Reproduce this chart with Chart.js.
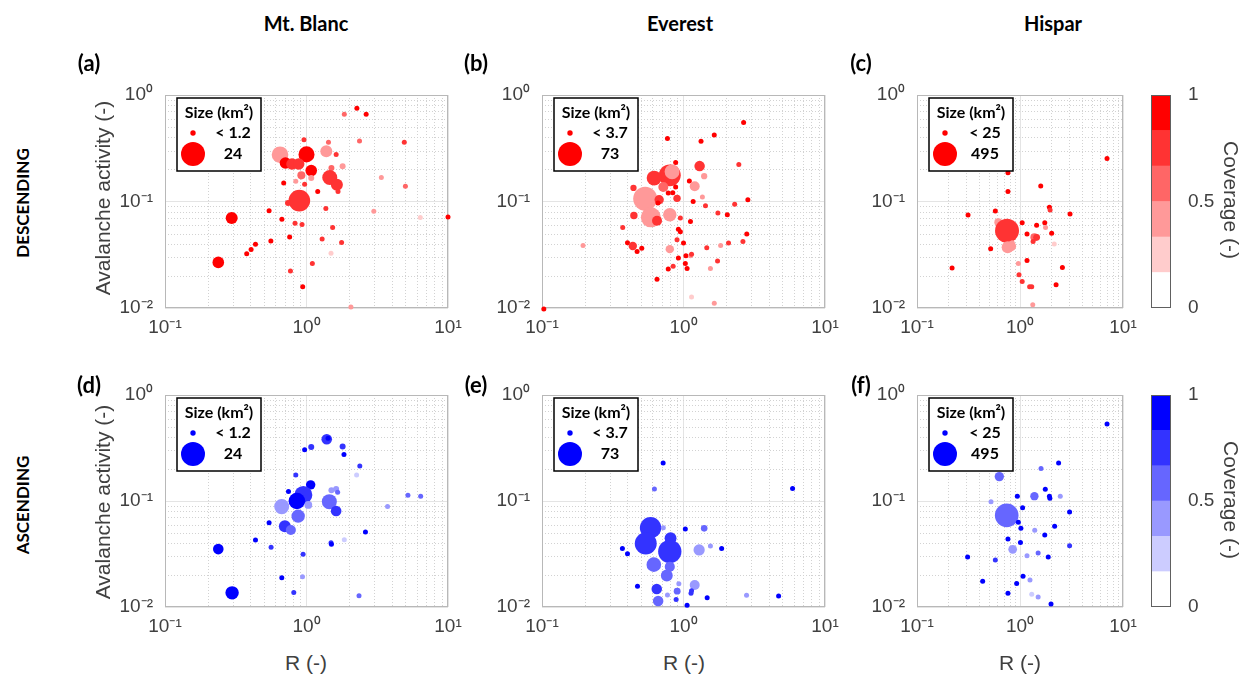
<!DOCTYPE html>
<html>
<head>
<meta charset="utf-8">
<script src="https://cdn.jsdelivr.net/npm/chart.js@4.4.0/dist/chart.umd.min.js"></script>
<style>
  body { margin: 0; background: #fff; }
  #page { position: relative; width: 1243px; height: 677px; overflow: hidden; font-family: 'Liberation Sans', Arial, sans-serif; }
  canvas { position: absolute; }
  .lbl { position: absolute; transform: translate(-50%, -50%); white-space: nowrap; }
  .head { font-family: Lato, sans-serif; font-weight: 700; color: #000; }
  .axis { color: #404040; font-size: 21px; }
</style>
</head>
<body>
<div id="page"></div>
<script>
// each row: [R, avalanche activity, glacier size (km2), coverage]
const mtBlancDesc = [
  [2.27,0.75,1,0.9],[1.85,0.66,1,0.6],[2.64,0.66,1,0.9],[0.96,0.38,1,0.75],[1.43,0.36,1,0.6],
  [2.37,0.37,1,0.6],[4.91,0.36,1,0.75],[0.65,0.275,11.5,0.45],[1.0,0.277,10.7,0.9],[1.38,0.296,6,0.4],
  [1.62,0.277,1,0.75],[0.71,0.23,5.6,0.9],[0.79,0.225,5.6,0.75],[0.88,0.225,5.6,0.75],[1.08,0.195,5.6,0.9],
  [1.8,0.214,1.5,0.4],[1.5,0.206,1.5,0.6],[0.92,0.176,2.7,0.6],[1.08,0.166,1.5,0.4],[1.46,0.168,9.4,0.75],
  [3.38,0.168,1,0.45],[0.69,0.149,1,0.9],[0.84,0.155,1,0.4],[0.97,0.145,1,0.75],[1.64,0.144,6,0.75],
  [5.0,0.139,1,0.6],[1.2,0.124,1,0.9],[1.67,0.124,1,0.75],[0.89,0.102,19.5,0.75],[0.74,0.097,1.5,0.75],
  [0.296,0.07,6,0.95],[0.544,0.082,1,0.95],[0.67,0.068,1,0.95],[0.83,0.0625,1,0.75],[0.93,0.0607,1,0.75],
  [1.37,0.086,1,0.75],[2.99,0.081,1,0.45],[6.37,0.0706,1,0.25],[10.0,0.0717,1,0.95],[1.53,0.0569,1,0.75],
  [0.76,0.0464,1,0.95],[1.29,0.0445,1,0.75],[1.77,0.0413,1,0.75],[0.56,0.0426,1,0.95],[0.436,0.0396,1,0.95],
  [0.406,0.0355,1,0.95],[0.378,0.0323,1,0.95],[1.49,0.0326,1,0.25],[0.238,0.0268,5.6,0.95],[1.1,0.0262,1,0.75],
  [0.77,0.0222,1,0.75],[0.94,0.0158,1,0.95],[2.06,0.0102,1,0.45]
];
const everestDesc = [
  [2.66,0.552,3,0.9],[0.77,0.39,3,0.9],[1.33,0.368,3,0.9],[1.65,0.42,3,0.9],[2.46,0.222,3,0.75],
  [0.88,0.233,3,0.9],[1.3,0.215,14,0.75],[1.4,0.173,5,0.45],[0.8,0.176,61,0.75],[0.83,0.19,28,0.45],
  [0.62,0.166,28,0.75],[0.72,0.137,12.7,0.6],[1.1,0.156,3,0.9],[1.2,0.139,12.7,0.45],[0.88,0.137,3,0.9],
  [0.443,0.134,5,0.75],[0.84,0.121,3,0.9],[0.78,0.12,3,0.9],[0.9,0.107,7,0.75],[0.536,0.106,73,0.45],
  [0.588,0.071,51,0.4],[0.673,0.104,11,0.75],[0.66,0.097,3,0.9],[1.17,0.1,3,0.9],[1.36,0.11,3,0.45],
  [1.43,0.091,3,0.75],[2.3,0.094,3,0.75],[2.85,0.104,3,0.9],[0.446,0.074,7,0.75],[0.65,0.066,12.7,0.75],
  [0.8,0.075,23,0.45],[0.95,0.07,3,0.75],[1.12,0.065,3,0.9],[1.75,0.078,3,0.75],[2.04,0.075,3,0.9],
  [0.372,0.057,3,0.75],[0.92,0.055,3,0.9],[0.95,0.052,3,0.9],[2.8,0.0495,3,0.9],[0.402,0.041,3,0.9],
  [0.438,0.0382,9,0.75],[0.47,0.034,3,0.9],[0.507,0.0363,3,0.9],[0.9,0.0438,3,0.75],[1.0,0.0407,3,0.9],
  [0.8,0.0357,9,0.45],[1.46,0.0368,3,0.75],[1.83,0.0387,3,0.45],[2.08,0.0407,3,0.75],[2.63,0.042,3,0.75],
  [0.92,0.0294,3,0.9],[1.04,0.031,3,0.9],[1.12,0.031,3,0.4],[1.14,0.032,3,0.75],[1.03,0.0262,3,0.9],
  [1.06,0.0235,3,0.9],[0.845,0.0247,3,0.75],[0.78,0.0232,3,0.9],[1.74,0.0276,3,0.75],[1.55,0.0235,3,0.45],
  [0.65,0.0186,3,0.9],[0.195,0.0387,3,0.45],[1.14,0.0127,3,0.25],[1.65,0.0111,3,0.45],[0.103,0.0098,3,0.9]
];
const hisparDesc = [
  [7.0,0.253,20,0.9],[0.764,0.186,20,0.9],[0.764,0.124,20,0.9],[1.59,0.14,20,0.9],[1.93,0.0885,20,0.9],
  [1.96,0.083,20,0.75],[3.06,0.0765,20,0.9],[0.313,0.0748,20,0.9],[0.576,0.0816,20,0.9],[0.616,0.0638,55,0.45],
  [0.748,0.0532,495,0.75],[0.759,0.0371,124,0.45],[0.82,0.038,86,0.45],[0.84,0.041,20,0.4],[1.05,0.063,20,0.9],
  [1.45,0.06,20,0.9],[1.74,0.063,20,0.9],[1.77,0.057,20,0.45],[2.03,0.0503,20,0.9],[1.17,0.0495,20,0.9],
  [1.38,0.0461,55,0.6],[1.45,0.0461,40,0.75],[1.34,0.042,20,0.75],[2.15,0.0398,20,0.25],[0.519,0.036,20,0.9],
  [1.17,0.028,20,0.9],[0.963,0.0262,20,0.45],[2.58,0.024,20,0.9],[0.219,0.0238,20,0.9],[0.978,0.0205,20,0.75],
  [1.05,0.0177,20,0.75],[1.24,0.0158,20,0.75],[1.3,0.0158,20,0.75],[2.24,0.0165,20,0.9],[1.33,0.0107,20,0.45]
];
const mtBlancAsc = [
  [1.39,0.382,4.7,0.75],[1.42,0.39,1,0.95],[1.08,0.323,1.5,0.75],[0.97,0.305,1,0.9],[1.8,0.326,1.5,0.75],
  [1.84,0.275,1,0.95],[2.38,0.214,1,0.75],[2.26,0.176,1,0.25],[0.84,0.176,1,0.75],[1.07,0.142,3.7,0.95],
  [0.746,0.123,1,0.95],[0.95,0.114,13.5,0.75],[0.855,0.1,11.5,0.9],[0.668,0.0885,9.4,0.4],[1.03,0.0917,2.5,0.45],
  [0.873,0.072,7.5,0.6],[0.703,0.0577,6,0.75],[0.775,0.0532,4.2,0.6],[0.544,0.0624,1,0.95],[1.5,0.126,1.5,0.45],
  [1.62,0.13,1.5,0.45],[1.66,0.121,1,0.6],[1.45,0.0986,9.4,0.6],[1.62,0.0805,4.7,0.75],[2.61,0.051,1,0.95],
  [1.85,0.0432,1,0.25],[1.49,0.0404,1,0.75],[1.5,0.039,1,0.95],[3.74,0.0885,1,0.4],[5.21,0.113,1,0.6],
  [6.41,0.111,1,0.6],[0.436,0.0428,1,0.95],[0.562,0.0366,1,0.75],[0.238,0.0352,4.7,0.95],[0.946,0.0314,1,0.75],
  [0.669,0.0189,1,0.95],[0.937,0.0193,1,0.45],[0.813,0.0137,1,0.75],[0.298,0.0136,7.5,0.95],[2.35,0.0128,1,0.6]
];
const everestAsc = [
  [0.718,0.228,3,0.95],[0.623,0.13,3,0.5],[5.9,0.131,3,0.95],[0.585,0.056,58,0.8],[0.541,0.0398,61,0.75],
  [0.72,0.056,3,0.45],[1.03,0.0545,3,0.95],[1.4,0.0552,5.5,0.6],[0.81,0.0445,18,0.75],[0.8,0.0333,69,0.75],
  [0.37,0.0357,3,0.95],[0.402,0.0318,3,0.95],[1.29,0.0345,16,0.45],[1.55,0.0376,3,0.45],[1.86,0.0357,3,0.95],
  [0.617,0.0251,27,0.6],[0.8,0.024,13,0.6],[0.762,0.0198,18,0.6],[0.473,0.0157,3,0.95],[0.647,0.0148,14,0.75],
  [0.662,0.0114,14,0.6],[0.927,0.0166,3,0.45],[0.902,0.0141,6,0.6],[0.77,0.013,3,0.45],[0.887,0.0118,3,0.8],
  [1.2,0.0161,12.7,0.45],[1.13,0.0135,3,0.75],[1.14,0.0142,3,0.75],[1.47,0.0122,3,0.95],[1.06,0.0104,3,0.95],
  [2.79,0.0129,3,0.45],[4.7,0.0127,3,0.95]
];
const hisparAsc = [
  [7.0,0.532,20,0.95],[2.37,0.228,20,0.95],[1.6,0.203,20,0.6],[0.63,0.17,75,0.6],[1.76,0.129,20,0.95],
  [0.942,0.111,20,0.95],[1.38,0.111,60,0.6],[1.93,0.111,20,0.95],[1.95,0.106,20,0.95],[2.46,0.111,20,0.45],
  [0.523,0.0986,20,0.45],[1.06,0.0865,20,0.95],[3.03,0.0787,20,0.95],[0.743,0.0732,480,0.6],[0.963,0.063,20,0.95],
  [1.02,0.0552,20,0.95],[2.17,0.0577,20,0.95],[1.39,0.0529,20,0.45],[1.74,0.0477,20,0.95],[0.764,0.0438,20,0.95],
  [1.01,0.0405,20,0.9],[3.03,0.0379,20,0.75],[0.849,0.035,65,0.45],[1.5,0.0323,20,0.6],[1.17,0.0305,20,0.45],
  [1.88,0.0296,20,0.95],[0.31,0.0296,20,0.95],[0.576,0.0277,20,0.75],[0.434,0.0175,20,0.95],[0.928,0.0167,20,0.95],
  [1.07,0.0195,20,0.95],[1.25,0.018,20,0.45],[0.764,0.0135,20,0.95],[1.3,0.0132,20,0.25],[1.5,0.0124,20,0.45],
  [2.0,0.0107,20,0.95]
];

const siteNames = ['Mt. Blanc', 'Everest', 'Hispar'];
const rowNames = ['DESCENDING', 'ASCENDING'];
const panelLetters = ['(a)', '(b)', '(c)', '(d)', '(e)', '(f)'];
const sizeSmall = [1.2, 3.7, 25];
const sizeBig = [24, 73, 495];
const xRange = [0.1, 10];
const yRange = [0.01, 1];
const coverageEdges = [0, 1/6, 2/6, 3/6, 4/6, 5/6, 1];
const coverageTicks = [0, 0.5, 1];

// styles
const redLevels = ['#FFFFFF', '#FFCCCC', '#FF9999', '#FF6666', '#FF3333', '#FF0000'];
const blueLevels = ['#FFFFFF', '#CCCCFF', '#9999FF', '#6666FF', '#3333FF', '#0000FF'];
const colL = [165, 542, 917], colR = [448, 825, 1123];
const rowT = [95, 395], rowB = [308, 607];
const tickFont = { family: "'Liberation Sans', Arial, sans-serif", size: 19 };
const page = document.getElementById('page');

function isDecade(v) {
  const l = Math.log10(v);
  return Math.abs(l - Math.round(l)) < 1e-9;
}
const sup = { '-': '\u207B', '0': '\u2070', '1': '\u00B9', '2': '\u00B2' };
function decadeLabel(v) {
  const e = String(Math.round(Math.log10(v)));
  return '10' + e.split('').map(c => sup[c]).join('');
}
// 1..9 x 10^k between min and max
function logTicks(min, max) {
  const out = [];
  for (let d = min; d < max * 0.999; d *= 10)
    for (let k = 1; k < 10; k++) out.push(+(k * d).toPrecision(3));
  out.push(max);
  return out;
}
function radius(s, sMax) { return Math.max(2.5, 12 * Math.sqrt(s / sMax)); }
function coverageColor(c, levels) { return levels[Math.min(5, Math.floor(c * 6))]; }

function addLabel(text, x, y, cls, extra) {
  const d = document.createElement('div');
  d.className = 'lbl ' + cls;
  d.textContent = text;
  d.style.left = x + 'px';
  d.style.top = y + 'px';
  if (extra) Object.assign(d.style, extra);
  page.appendChild(d);
}
function addCanvas(left, top, w, h) {
  const c = document.createElement('canvas');
  c.width = w; c.height = h;
  c.style.left = left + 'px'; c.style.top = top + 'px';
  page.appendChild(c);
  return c;
}

// dotted minor grid + grey box
const axesFrame = {
  id: 'axesFrame',
  beforeDatasetsDraw(chart) {
    const { ctx, chartArea: a, scales: { x, y } } = chart;
    ctx.save();
    ctx.strokeStyle = '#d2d2d2';
    ctx.lineWidth = 1;
    ctx.setLineDash([1, 2]);
    ctx.beginPath();
    x.ticks.forEach(t => {
      if (isDecade(t.value)) return;
      const px = Math.round(x.getPixelForValue(t.value)) + 0.5;
      ctx.moveTo(px, a.top); ctx.lineTo(px, a.bottom);
    });
    y.ticks.forEach(t => {
      if (isDecade(t.value)) return;
      const py = Math.round(y.getPixelForValue(t.value)) + 0.5;
      ctx.moveTo(a.left, py); ctx.lineTo(a.right, py);
    });
    ctx.stroke();
    ctx.setLineDash([]);
    ctx.strokeStyle = '#b8b8b8';
    ctx.strokeRect(a.left + 0.5, a.top + 0.5, a.width - 1, a.height - 1);
    ctx.restore();
  }
};

function sizeLegend(col, color) {
  return {
    id: 'sizeLegend',
    afterDatasetsDraw(chart) {
      const { ctx, chartArea: a } = chart;
      const bx = a.left + 12, by = a.top + 3, bw = 84, bh = 73;
      ctx.save();
      ctx.fillStyle = '#fff';
      ctx.fillRect(bx, by, bw, bh);
      ctx.strokeStyle = '#000';
      ctx.lineWidth = 1.5;
      ctx.strokeRect(bx, by, bw, bh);
      ctx.fillStyle = '#000';
      ctx.textAlign = 'center';
      ctx.textBaseline = 'middle';
      ctx.font = "bold 16px Lato, sans-serif";
      ctx.fillText('Size (km\u00B2)', bx + bw / 2, by + 15);
      ctx.fillText('< ' + sizeSmall[col], bx + 56, by + 35);
      ctx.fillText(String(sizeBig[col]), bx + 56, by + 56);
      ctx.fillStyle = color;
      [[sizeSmall[col], 35], [sizeBig[col], 56]].forEach(([s, dy]) => {
        ctx.beginPath();
        ctx.arc(bx + 16, by + dy, radius(s, sizeBig[col]), 0, Math.PI * 2);
        ctx.fill();
      });
      ctx.restore();
    }
  };
}

function panel(rows, row, col, levels) {
  const L = colL[col], R = colR[col], T = rowT[row], B = rowB[row];
  const yw = 70, pt = 26, pr = 28, xh = 36;
  const canvas = addCanvas(L - yw, T - pt, R - L + yw + pr, B - T + pt + xh);
  new Chart(canvas, {
    type: 'bubble',
    data: {
      datasets: [{
        data: rows.map(p => ({ x: p[0], y: p[1], r: radius(p[2], sizeBig[col]) })),
        backgroundColor: rows.map(p => coverageColor(p[3], levels)),
        borderWidth: 0,
        clip: false
      }]
    },
    options: {
      responsive: false,
      animation: false,
      devicePixelRatio: 1,
      layout: { padding: { top: pt, right: pr, left: 0, bottom: 0 } },
      plugins: { legend: { display: false }, tooltip: { enabled: false } },
      scales: {
        x: {
          type: 'logarithmic', min: xRange[0], max: xRange[1],
          afterBuildTicks: s => { s.ticks = logTicks(xRange[0], xRange[1]).map(v => ({ value: v })); },
          afterFit: s => { s.height = xh; },
          ticks: { autoSkip: false, maxRotation: 0, padding: 8, font: tickFont, color: '#404040',
                   callback: v => isDecade(v) ? decadeLabel(v) : '' },
          grid: { drawTicks: false, lineWidth: 1, color: c => isDecade(c.tick.value) ? '#e4e4e4' : 'rgba(0,0,0,0)' },
          border: { display: false }
        },
        y: {
          type: 'logarithmic', min: yRange[0], max: yRange[1],
          afterBuildTicks: s => { s.ticks = logTicks(yRange[0], yRange[1]).map(v => ({ value: v })); },
          afterFit: s => { s.width = yw; },
          ticks: { autoSkip: false, padding: 12, font: tickFont, color: '#404040',
                   callback: v => isDecade(v) ? decadeLabel(v) : '' },
          grid: { drawTicks: false, lineWidth: 1, color: c => isDecade(c.tick.value) ? '#e4e4e4' : 'rgba(0,0,0,0)' },
          border: { display: false }
        }
      }
    },
    plugins: [axesFrame, sizeLegend(col, levels[5])]
  });
}

function colorbar(row, levels) {
  const T = rowT[row], B = rowB[row];
  const pad = 24;
  const canvas = addCanvas(1141, T - pad, 100, B - T + 2 * pad);
  new Chart(canvas, {
    type: 'bar',
    data: {
      labels: [''],
      datasets: levels.map((c, i) => ({
        data: [coverageEdges[i + 1] - coverageEdges[i]],
        backgroundColor: c, borderWidth: 0, barPercentage: 1, categoryPercentage: 1
      }))
    },
    options: {
      responsive: false, animation: false, devicePixelRatio: 1,
      layout: { padding: { top: pad, bottom: pad, left: 10, right: 10 } },
      plugins: { legend: { display: false }, tooltip: { enabled: false } },
      scales: {
        x: { display: false, stacked: true },
        y: {
          stacked: true, position: 'right', min: 0, max: 1,
          afterBuildTicks: s => { s.ticks = coverageTicks.map(v => ({ value: v })); },
          afterFit: s => { s.width = 60; },
          ticks: { padding: 9, font: tickFont, color: '#404040', callback: v => String(v) },
          grid: { display: false },
          border: { display: false }
        }
      }
    },
    plugins: [{
      id: 'cbFrame',
      afterDraw(chart) {
        const { ctx, chartArea: a } = chart;
        ctx.save();
        ctx.strokeStyle = '#606060';
        ctx.lineWidth = 1;
        ctx.strokeRect(a.left + 0.5, a.top + 0.5, a.width - 1, a.height - 1);
        ctx.restore();
      }
    }]
  });
}

panel(mtBlancDesc, 0, 0, redLevels);
panel(everestDesc, 0, 1, redLevels);
panel(hisparDesc, 0, 2, redLevels);
panel(mtBlancAsc, 1, 0, blueLevels);
panel(everestAsc, 1, 1, blueLevels);
panel(hisparAsc, 1, 2, blueLevels);
colorbar(0, redLevels);
colorbar(1, blueLevels);

// texts
[306, 680, 1053].forEach((x, i) => addLabel(siteNames[i], x, 23, 'head', { fontSize: '20px' }));
[89, 476, 861].forEach((x, i) => {
  addLabel(panelLetters[i], x, 62, 'head', { fontSize: '22px' });
  addLabel(panelLetters[i + 3], x, 384, 'head', { fontSize: '22px' });
});
[203, 505].forEach((y, i) => addLabel(rowNames[i], 22, y, 'head', { fontSize: '17px', transform: 'translate(-50%,-50%) rotate(-90deg)' }));
[198, 502].forEach(y => addLabel('Avalanche activity (-)', 103, y, 'axis', { transform: 'translate(-50%,-50%) rotate(-90deg)' }));
[306, 684, 1020].forEach(x => addLabel('R (-)', x, 663, 'axis'));
[200, 500].forEach(y => addLabel('Coverage (-)', 1231, y, 'axis', { transform: 'translate(-50%,-50%) rotate(90deg)' }));
</script>
</body>
</html>
